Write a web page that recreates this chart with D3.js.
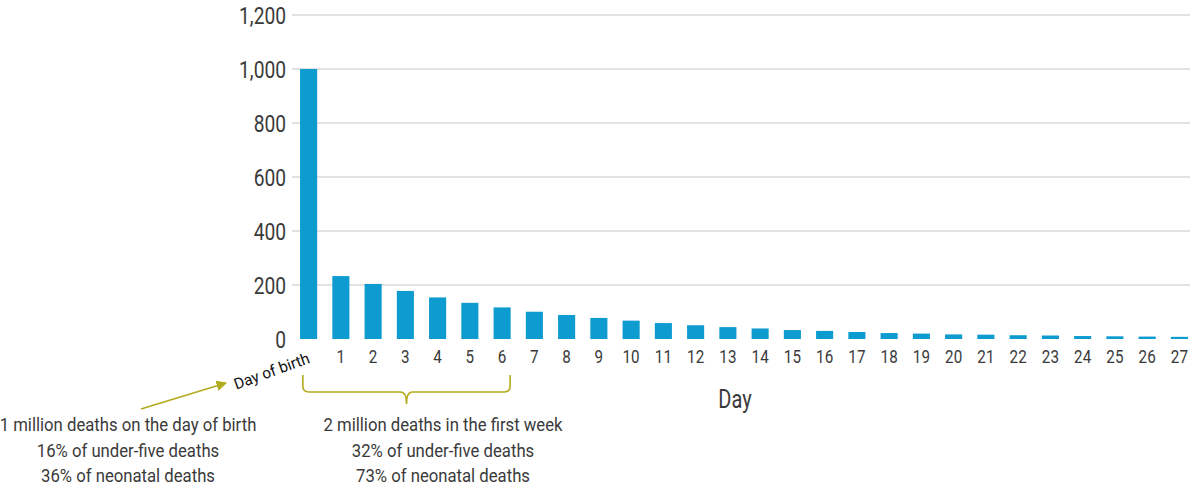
<!DOCTYPE html>
<html><head><meta charset="utf-8">
<script src="https://cdn.jsdelivr.net/npm/d3@7"></script>
<style>
body{margin:0;background:#fff;}
text{font-family:"Roboto","Liberation Sans",sans-serif;fill:#3a3a3a;}
</style></head>
<body><svg id="c" width="1200" height="486"></svg>
<script>
const categories = ["Day of birth","1","2","3","4","5","6","7","8","9","10","11","12","13","14","15","16","17","18","19","20","21","22","23","24","25","26","27"];
const deaths = [1000,233,204,178,154,134,117,101,89,78,68,59,51,44,39,33,30,26,22,20,17,16,14,13,11,10,9,8];
const yTicks = [0,200,400,600,800,1000,1200];
const noteLeft = ["1 million deaths on the day of birth","16% of under-five deaths","36% of neonatal deaths"];
const noteRight = ["2 million deaths in the first week","32% of under-five deaths","73% of neonatal deaths"];

const svg = d3.select("#c");
const x = d3.scaleBand().domain(categories).range([292,1196]).paddingInner(0.47).paddingOuter(0.25);
const y = d3.scaleLinear().domain([0,1200]).range([339,15]);
const olive = "#b3ab1e";
const SX = 0.8; // condensed look

function ctext(g, data, fx, fy, anchor, size, sx){
  return g.selectAll("text").data(data).join("text")
    .attr("transform",(d,i)=>`translate(${fx(d,i)},${fy(d,i)}) scale(${sx||SX},1)`)
    .attr("text-anchor",anchor).style("font-size",size+"px").text(d=>d);
}

// gridlines
svg.append("g").selectAll("line").data(yTicks.filter(d=>d>0)).join("line")
  .attr("x1",292).attr("x2",1190).attr("y1",d=>y(d)).attr("y2",d=>y(d))
  .attr("stroke","#d9d9d9").attr("stroke-width",1.3);

// y labels
svg.append("g").selectAll("text").data(yTicks).join("text")
  .attr("transform",d=>`translate(286,${y(d)}) scale(${SX},1)`)
  .attr("dy","0.36em").attr("text-anchor","end")
  .style("font-size","24px").text(d=>d3.format(",")(d));

// bars
svg.append("g").selectAll("rect").data(deaths).join("rect")
  .attr("x",(d,i)=>x(categories[i])).attr("width",x.bandwidth())
  .attr("y",d=>y(d)).attr("height",d=>y(0)-y(d)).attr("fill","#0e9bd0");

// x labels
ctext(svg.append("g"), categories.slice(1), d=>x(d)+x.bandwidth()/2, ()=>363, "middle", 19);

const c0 = x(categories[0])+x.bandwidth()/2;
svg.append("text").attr("transform",`translate(${c0-37},${371}) rotate(-20)`)
  .attr("text-anchor","middle").attr("dy","0.35em").style("font-size","15.5px")
  .style("fill","#111")
  .text(categories[0]);

// axis title
svg.append("text").attr("transform",`translate(735,408) scale(${SX},1)`).attr("text-anchor","middle")
  .style("font-size","25px").text("Day");

// arrow
svg.append("defs").append("marker").attr("id","ah").attr("viewBox","0 0 10 10")
  .attr("refX",9).attr("refY",5).attr("markerWidth",7).attr("markerHeight",7).attr("orient","auto")
  .append("path").attr("d","M0,0L10,5L0,10z").attr("fill",olive);
svg.append("line").attr("x1",141).attr("y1",409).attr("x2",226).attr("y2",383)
  .attr("stroke",olive).attr("stroke-width",1.5).attr("marker-end","url(#ah)");

// brace
const bx1 = x("1")+x.bandwidth()/2 - 38, bx2 = x("6")+x.bandwidth()/2 + 8;
const bm = (bx1+bx2)/2;
const bt = 375, bb = 392;
svg.append("path").attr("fill","none").attr("stroke",olive).attr("stroke-width",1.6)
  .attr("d",`M${bx1},${bt} L${bx1},${bb-6} Q${bx1},${bb} ${bx1+6},${bb} L${bm-6},${bb} Q${bm},${bb} ${bm},${bb+12} Q${bm},${bb} ${bm+6},${bb} L${bx2-6},${bb} Q${bx2},${bb} ${bx2},${bb-6} L${bx2},${bt}`);

// notes
ctext(svg.append("g"), noteLeft, ()=>128, (d,i)=>431+i*25.5, "middle", 19, 0.88);
ctext(svg.append("g"), noteRight, ()=>443, (d,i)=>431+i*25.5, "middle", 19, 0.88);
</script></body></html>
